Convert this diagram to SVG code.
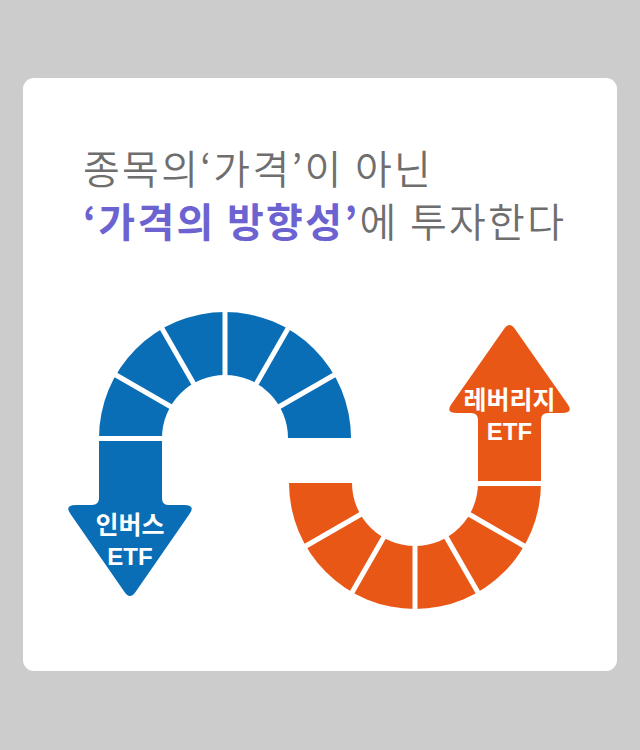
<svg xmlns="http://www.w3.org/2000/svg" width="640" height="750" viewBox="0 0 640 750">
  <style>
    .title { font-family: "Noto Sans CJK KR", "Noto Sans", sans-serif; font-size: 40px; fill: #6e6e6e; font-weight: 350; letter-spacing: 2.3px; }
    .accent { fill: #6c63d1; font-weight: 700; }
    .lbl { font-family: "Noto Sans CJK KR", "Noto Sans", sans-serif; font-size: 25px; fill: #ffffff; font-weight: 700; text-anchor: middle; }
    .en { font-family: "Liberation Sans", Arial, sans-serif; font-size: 24px; fill: #ffffff; font-weight: 700; text-anchor: middle; }
    .gap { stroke: #ffffff; stroke-width: 5; fill: none; }
  </style>
  <rect x="0" y="0" width="640" height="750" fill="#cccccc"/>
  <rect x="23" y="78" width="594" height="593" rx="11" fill="#ffffff"/>

  <g id="title">
    <text class="title" x="83" y="184">종목의‘가격’이 아닌</text>
    <text class="title" x="83" y="237"><tspan class="accent">‘가격의 방향성’</tspan>에 투자한다</text>
  </g>

  <g id="inverse-etf">
    <path d="M 99 438 A 126 126 0 0 1 351 438 L 288 438 A 63 63 0 0 0 162 438 Z" fill="#0a6eb6"/>
    <path d="M 99 441 L 99 498 Q 99 505 92 505 L 76 505 Q 64 505 70.5 514 L 124.5 592 Q 130 600 135.5 592 L 189.5 514 Q 196 505 184 505 L 168 505 Q 162 505 162 498 L 162 441 Z" fill="#0a6eb6"/>
    <line class="gap" x1="225" y1="378" x2="225" y2="308"/>
    <line class="gap" x1="195" y1="386" x2="160" y2="325"/>
    <line class="gap" x1="255" y1="386" x2="290" y2="325"/>
    <line class="gap" x1="173.1" y1="408" x2="112.4" y2="373"/>
    <line class="gap" x1="276.9" y1="408" x2="337.6" y2="373"/>
    <line class="gap" x1="95" y1="438.5" x2="166" y2="438.5"/>
    <text class="lbl" x="130" y="534">인버스</text>
    <text class="en" x="130" y="565">ETF</text>
  </g>

  <g id="leverage-etf">
    <path d="M 289 483 A 126 126 0 0 0 541 483 L 478 483 A 63 63 0 0 1 352 483 Z" fill="#e95716"/>
    <path d="M 478 481 L 478 420 Q 478 413 471 413 L 457 413 Q 445 413 451.5 404 L 504 329 Q 509.5 321 515 329 L 567.5 404 Q 574 413 562 413 L 548 413 Q 541 413 541 420 L 541 481 Z" fill="#e95716"/>
    <line class="gap" x1="415" y1="543" x2="415" y2="613"/>
    <line class="gap" x1="385" y1="535" x2="350" y2="596"/>
    <line class="gap" x1="445" y1="535" x2="480" y2="596"/>
    <line class="gap" x1="363.1" y1="513" x2="302.4" y2="548"/>
    <line class="gap" x1="466.9" y1="513" x2="527.6" y2="548"/>
    <line class="gap" x1="474" y1="483.5" x2="545" y2="483.5"/>
    <text class="lbl" x="509.5" y="409">레버리지</text>
    <text class="en" x="509.5" y="440">ETF</text>
  </g>
</svg>
